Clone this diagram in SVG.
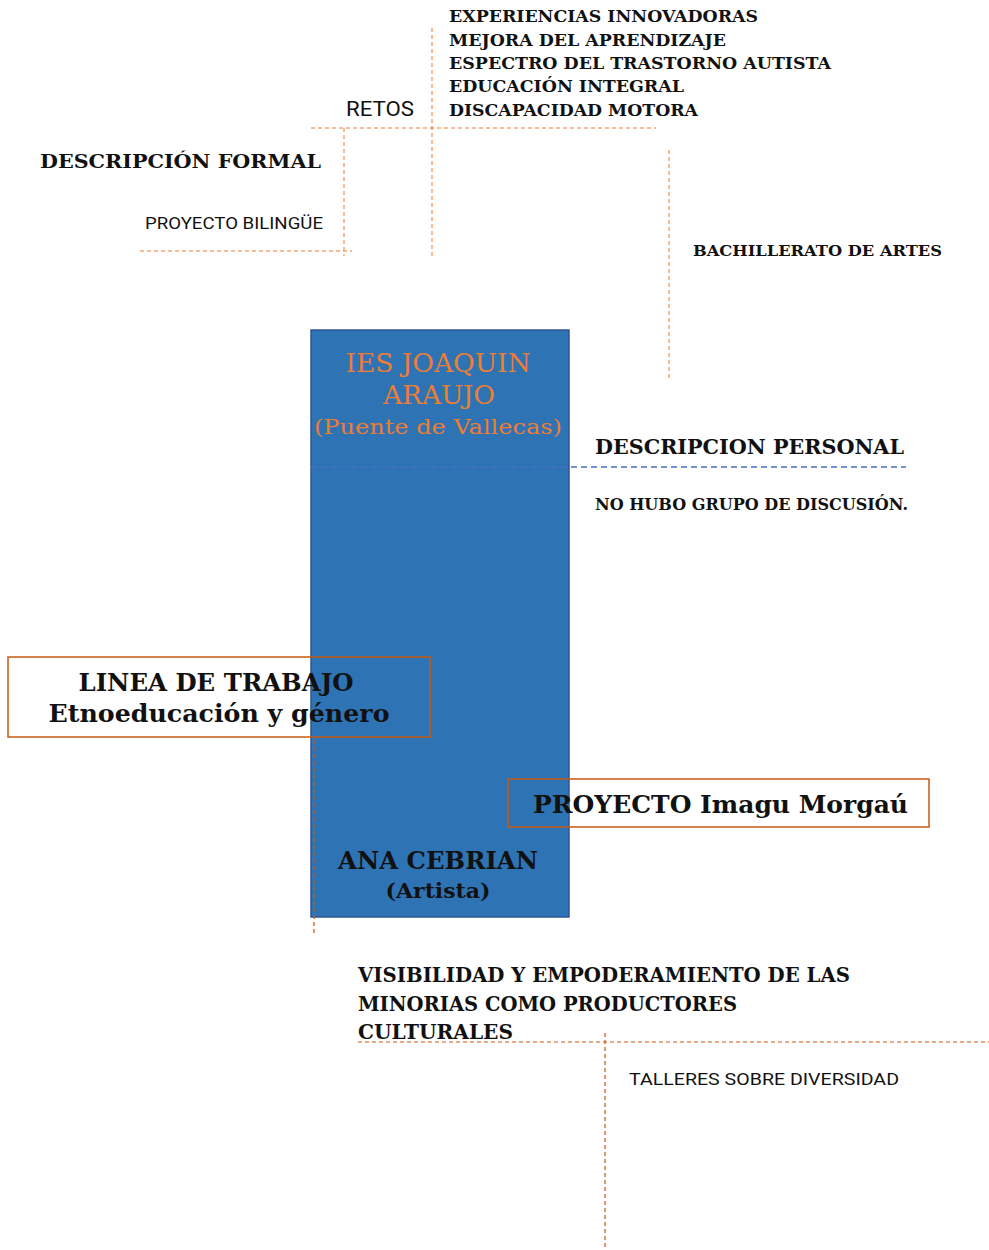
<svg xmlns="http://www.w3.org/2000/svg" width="989" height="1250" viewBox="0 0 989 1250">
<style>
.serif{font-family:"DejaVu Serif","Liberation Serif",serif;font-weight:bold;fill:#111}
.sans{font-family:"Roboto","Liberation Sans",sans-serif;fill:#111}
.dash{stroke:#ED7D31;stroke-width:1;stroke-dasharray:4 3;fill:none}
.dash2{stroke:#C55A11;stroke-width:1.2;stroke-dasharray:4 3;fill:none}
.box{fill:none;stroke:#C55A11;stroke-width:1.5}
.org{fill:#ED7D31;font-weight:normal}
</style>
<rect width="989" height="1250" fill="#fff"/>
<g id="center">
<rect x="311" y="330" width="258" height="587" fill="#2E74B5" stroke="#2F5597" stroke-width="1.5"/>
<text class="serif org" x="438" y="372" font-size="26" text-anchor="middle" textLength="185" lengthAdjust="spacingAndGlyphs">IES JOAQUIN</text>
<text class="serif org" x="439" y="404" font-size="26" text-anchor="middle" textLength="112" lengthAdjust="spacingAndGlyphs">ARAUJO</text>
<text class="serif org" x="438" y="434" font-size="21" text-anchor="middle" textLength="248" lengthAdjust="spacingAndGlyphs">(Puente de Vallecas)</text>
<text class="serif" x="438" y="869" font-size="25" text-anchor="middle" textLength="200" lengthAdjust="spacingAndGlyphs">ANA CEBRIAN</text>
<text class="serif" x="438" y="898" font-size="21" text-anchor="middle" textLength="105" lengthAdjust="spacingAndGlyphs">(Artista)</text>
</g>
<g id="connectors">
<path class="dash" d="M432 28V257"/>
<path class="dash" d="M311 128H656"/>
<path class="dash" d="M344 128V256"/>
<path class="dash" d="M140 251H352"/>
<path class="dash" d="M669 150V380"/>
<path d="M311 467H906" stroke="#4472C4" stroke-width="1.5" stroke-dasharray="6 4" fill="none"/>
<path class="dash2" d="M314 740V935"/>
<path class="dash2" d="M358 1042H989"/>
<path class="dash2" d="M605 1033V1248"/>
</g>
<g id="retos">
<text class="sans" x="346" y="116" font-size="21" textLength="68" lengthAdjust="spacingAndGlyphs">RETOS</text>
</g>
<g id="retos-list">
<text class="serif" x="449" y="22" font-size="16" textLength="309" lengthAdjust="spacingAndGlyphs">EXPERIENCIAS INNOVADORAS</text>
<text class="serif" x="449" y="46" font-size="16" textLength="277" lengthAdjust="spacingAndGlyphs">MEJORA DEL APRENDIZAJE</text>
<text class="serif" x="449" y="69" font-size="16" textLength="382" lengthAdjust="spacingAndGlyphs">ESPECTRO DEL TRASTORNO AUTISTA</text>
<text class="serif" x="449" y="92" font-size="16" textLength="235" lengthAdjust="spacingAndGlyphs">EDUCACIÓN INTEGRAL</text>
<text class="serif" x="449" y="116" font-size="16" textLength="249" lengthAdjust="spacingAndGlyphs">DISCAPACIDAD MOTORA</text>
</g>
<g id="desc-formal">
<text class="serif" x="40" y="168" font-size="19" textLength="281" lengthAdjust="spacingAndGlyphs">DESCRIPCIÓN FORMAL</text>
</g>
<g id="bilingue">
<text class="sans" x="145" y="229" font-size="17" textLength="178" lengthAdjust="spacingAndGlyphs">PROYECTO BILINGÜE</text>
</g>
<g id="bachillerato">
<text class="serif" x="693" y="256" font-size="15" textLength="249" lengthAdjust="spacingAndGlyphs">BACHILLERATO DE ARTES</text>
</g>
<g id="desc-personal">
<text class="serif" x="595" y="454" font-size="20" textLength="309" lengthAdjust="spacingAndGlyphs">DESCRIPCION PERSONAL</text>
</g>
<g id="no-hubo">
<text class="serif" x="595" y="510" font-size="16" textLength="313" lengthAdjust="spacingAndGlyphs">NO HUBO GRUPO DE DISCUSIÓN.</text>
</g>
<g id="linea">
<rect class="box" x="8" y="657" width="422" height="80"/>
<text class="serif" x="216" y="691" font-size="25" text-anchor="middle" textLength="275" lengthAdjust="spacingAndGlyphs">LINEA DE TRABAJO</text>
<text class="serif" x="219" y="722" font-size="25" text-anchor="middle" textLength="341" lengthAdjust="spacingAndGlyphs">Etnoeducación y género</text>
</g>
<g id="proyecto">
<rect class="box" x="508" y="779" width="421" height="48"/>
<text class="serif" x="533" y="813" font-size="25" textLength="375" lengthAdjust="spacingAndGlyphs">PROYECTO Imagu Morgaú</text>
</g>
<g id="visibilidad">
<text class="serif" x="358" y="982" font-size="20" textLength="492" lengthAdjust="spacingAndGlyphs">VISIBILIDAD Y EMPODERAMIENTO DE LAS</text>
<text class="serif" x="358" y="1011" font-size="20" textLength="379" lengthAdjust="spacingAndGlyphs">MINORIAS COMO PRODUCTORES</text>
<text class="serif" x="358" y="1039" font-size="20" textLength="155" lengthAdjust="spacingAndGlyphs">CULTURALES</text>
</g>
<g id="talleres">
<text class="sans" x="629" y="1085" font-size="17" textLength="270" lengthAdjust="spacingAndGlyphs">TALLERES  SOBRE DIVERSIDAD</text>
</g>
</svg>
